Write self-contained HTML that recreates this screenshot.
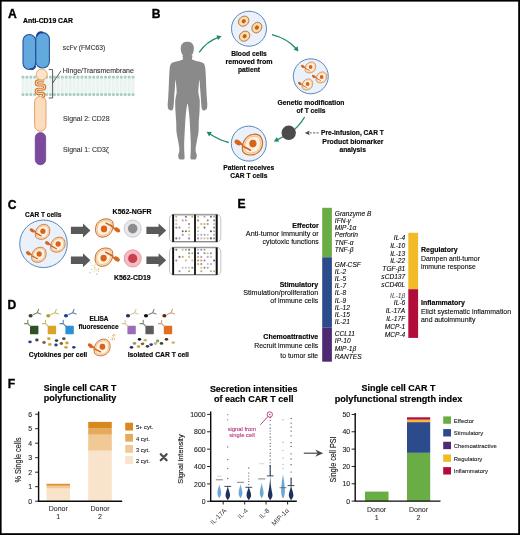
<!DOCTYPE html>
<html><head><meta charset="utf-8"><style>
html,body{margin:0;padding:0;background:#fff;}
svg{display:block;filter:blur(0.3px);font-family:"Liberation Sans",sans-serif;}
</style></head><body>
<svg width="520" height="535" viewBox="0 0 520 535">
<rect width="520" height="535" fill="#fff"/>
<text x="8.00" y="17.50" font-size="12.1" font-weight="bold" fill="#000" stroke="#000" stroke-width="0.35">A</text>
<text x="23.00" y="23.40" font-size="7" font-weight="bold" fill="#000" textLength="50" lengthAdjust="spacingAndGlyphs" stroke="#000" stroke-width="0.18">Anti-CD19 CAR</text>
<g><rect x="21.5" y="78" width="113" height="15.8" fill="#f3f9f7"/><line x1="22.30" y1="78.5" x2="22.30" y2="93.6" stroke="#dcebe6" stroke-width="0.5"/><line x1="23.70" y1="78.5" x2="23.70" y2="93.6" stroke="#dcebe6" stroke-width="0.5"/><line x1="26.23" y1="78.5" x2="26.23" y2="93.6" stroke="#dcebe6" stroke-width="0.5"/><line x1="27.63" y1="78.5" x2="27.63" y2="93.6" stroke="#dcebe6" stroke-width="0.5"/><line x1="30.16" y1="78.5" x2="30.16" y2="93.6" stroke="#dcebe6" stroke-width="0.5"/><line x1="31.56" y1="78.5" x2="31.56" y2="93.6" stroke="#dcebe6" stroke-width="0.5"/><line x1="34.09" y1="78.5" x2="34.09" y2="93.6" stroke="#dcebe6" stroke-width="0.5"/><line x1="35.49" y1="78.5" x2="35.49" y2="93.6" stroke="#dcebe6" stroke-width="0.5"/><line x1="38.02" y1="78.5" x2="38.02" y2="93.6" stroke="#dcebe6" stroke-width="0.5"/><line x1="39.42" y1="78.5" x2="39.42" y2="93.6" stroke="#dcebe6" stroke-width="0.5"/><line x1="41.95" y1="78.5" x2="41.95" y2="93.6" stroke="#dcebe6" stroke-width="0.5"/><line x1="43.35" y1="78.5" x2="43.35" y2="93.6" stroke="#dcebe6" stroke-width="0.5"/><line x1="45.88" y1="78.5" x2="45.88" y2="93.6" stroke="#dcebe6" stroke-width="0.5"/><line x1="47.28" y1="78.5" x2="47.28" y2="93.6" stroke="#dcebe6" stroke-width="0.5"/><line x1="49.81" y1="78.5" x2="49.81" y2="93.6" stroke="#dcebe6" stroke-width="0.5"/><line x1="51.21" y1="78.5" x2="51.21" y2="93.6" stroke="#dcebe6" stroke-width="0.5"/><line x1="53.74" y1="78.5" x2="53.74" y2="93.6" stroke="#dcebe6" stroke-width="0.5"/><line x1="55.14" y1="78.5" x2="55.14" y2="93.6" stroke="#dcebe6" stroke-width="0.5"/><line x1="57.67" y1="78.5" x2="57.67" y2="93.6" stroke="#dcebe6" stroke-width="0.5"/><line x1="59.07" y1="78.5" x2="59.07" y2="93.6" stroke="#dcebe6" stroke-width="0.5"/><line x1="61.60" y1="78.5" x2="61.60" y2="93.6" stroke="#dcebe6" stroke-width="0.5"/><line x1="63.00" y1="78.5" x2="63.00" y2="93.6" stroke="#dcebe6" stroke-width="0.5"/><line x1="65.53" y1="78.5" x2="65.53" y2="93.6" stroke="#dcebe6" stroke-width="0.5"/><line x1="66.93" y1="78.5" x2="66.93" y2="93.6" stroke="#dcebe6" stroke-width="0.5"/><line x1="69.46" y1="78.5" x2="69.46" y2="93.6" stroke="#dcebe6" stroke-width="0.5"/><line x1="70.86" y1="78.5" x2="70.86" y2="93.6" stroke="#dcebe6" stroke-width="0.5"/><line x1="73.39" y1="78.5" x2="73.39" y2="93.6" stroke="#dcebe6" stroke-width="0.5"/><line x1="74.79" y1="78.5" x2="74.79" y2="93.6" stroke="#dcebe6" stroke-width="0.5"/><line x1="77.32" y1="78.5" x2="77.32" y2="93.6" stroke="#dcebe6" stroke-width="0.5"/><line x1="78.72" y1="78.5" x2="78.72" y2="93.6" stroke="#dcebe6" stroke-width="0.5"/><line x1="81.25" y1="78.5" x2="81.25" y2="93.6" stroke="#dcebe6" stroke-width="0.5"/><line x1="82.65" y1="78.5" x2="82.65" y2="93.6" stroke="#dcebe6" stroke-width="0.5"/><line x1="85.18" y1="78.5" x2="85.18" y2="93.6" stroke="#dcebe6" stroke-width="0.5"/><line x1="86.58" y1="78.5" x2="86.58" y2="93.6" stroke="#dcebe6" stroke-width="0.5"/><line x1="89.11" y1="78.5" x2="89.11" y2="93.6" stroke="#dcebe6" stroke-width="0.5"/><line x1="90.51" y1="78.5" x2="90.51" y2="93.6" stroke="#dcebe6" stroke-width="0.5"/><line x1="93.04" y1="78.5" x2="93.04" y2="93.6" stroke="#dcebe6" stroke-width="0.5"/><line x1="94.44" y1="78.5" x2="94.44" y2="93.6" stroke="#dcebe6" stroke-width="0.5"/><line x1="96.97" y1="78.5" x2="96.97" y2="93.6" stroke="#dcebe6" stroke-width="0.5"/><line x1="98.37" y1="78.5" x2="98.37" y2="93.6" stroke="#dcebe6" stroke-width="0.5"/><line x1="100.90" y1="78.5" x2="100.90" y2="93.6" stroke="#dcebe6" stroke-width="0.5"/><line x1="102.30" y1="78.5" x2="102.30" y2="93.6" stroke="#dcebe6" stroke-width="0.5"/><line x1="104.83" y1="78.5" x2="104.83" y2="93.6" stroke="#dcebe6" stroke-width="0.5"/><line x1="106.23" y1="78.5" x2="106.23" y2="93.6" stroke="#dcebe6" stroke-width="0.5"/><line x1="108.76" y1="78.5" x2="108.76" y2="93.6" stroke="#dcebe6" stroke-width="0.5"/><line x1="110.16" y1="78.5" x2="110.16" y2="93.6" stroke="#dcebe6" stroke-width="0.5"/><line x1="112.69" y1="78.5" x2="112.69" y2="93.6" stroke="#dcebe6" stroke-width="0.5"/><line x1="114.09" y1="78.5" x2="114.09" y2="93.6" stroke="#dcebe6" stroke-width="0.5"/><line x1="116.62" y1="78.5" x2="116.62" y2="93.6" stroke="#dcebe6" stroke-width="0.5"/><line x1="118.02" y1="78.5" x2="118.02" y2="93.6" stroke="#dcebe6" stroke-width="0.5"/><line x1="120.55" y1="78.5" x2="120.55" y2="93.6" stroke="#dcebe6" stroke-width="0.5"/><line x1="121.95" y1="78.5" x2="121.95" y2="93.6" stroke="#dcebe6" stroke-width="0.5"/><line x1="124.48" y1="78.5" x2="124.48" y2="93.6" stroke="#dcebe6" stroke-width="0.5"/><line x1="125.88" y1="78.5" x2="125.88" y2="93.6" stroke="#dcebe6" stroke-width="0.5"/><line x1="128.41" y1="78.5" x2="128.41" y2="93.6" stroke="#dcebe6" stroke-width="0.5"/><line x1="129.81" y1="78.5" x2="129.81" y2="93.6" stroke="#dcebe6" stroke-width="0.5"/><line x1="132.34" y1="78.5" x2="132.34" y2="93.6" stroke="#dcebe6" stroke-width="0.5"/><line x1="133.74" y1="78.5" x2="133.74" y2="93.6" stroke="#dcebe6" stroke-width="0.5"/><circle cx="23.00" cy="77.1" r="1.6" fill="#a9cfc1"/><circle cx="23.00" cy="94.6" r="1.6" fill="#a9cfc1"/><circle cx="26.93" cy="77.1" r="1.6" fill="#a9cfc1"/><circle cx="26.93" cy="94.6" r="1.6" fill="#a9cfc1"/><circle cx="30.86" cy="77.1" r="1.6" fill="#a9cfc1"/><circle cx="30.86" cy="94.6" r="1.6" fill="#a9cfc1"/><circle cx="34.79" cy="77.1" r="1.6" fill="#a9cfc1"/><circle cx="34.79" cy="94.6" r="1.6" fill="#a9cfc1"/><circle cx="38.72" cy="77.1" r="1.6" fill="#a9cfc1"/><circle cx="38.72" cy="94.6" r="1.6" fill="#a9cfc1"/><circle cx="42.65" cy="77.1" r="1.6" fill="#a9cfc1"/><circle cx="42.65" cy="94.6" r="1.6" fill="#a9cfc1"/><circle cx="46.58" cy="77.1" r="1.6" fill="#a9cfc1"/><circle cx="46.58" cy="94.6" r="1.6" fill="#a9cfc1"/><circle cx="50.51" cy="77.1" r="1.6" fill="#a9cfc1"/><circle cx="50.51" cy="94.6" r="1.6" fill="#a9cfc1"/><circle cx="54.44" cy="77.1" r="1.6" fill="#a9cfc1"/><circle cx="54.44" cy="94.6" r="1.6" fill="#a9cfc1"/><circle cx="58.37" cy="77.1" r="1.6" fill="#a9cfc1"/><circle cx="58.37" cy="94.6" r="1.6" fill="#a9cfc1"/><circle cx="62.30" cy="77.1" r="1.6" fill="#a9cfc1"/><circle cx="62.30" cy="94.6" r="1.6" fill="#a9cfc1"/><circle cx="66.23" cy="77.1" r="1.6" fill="#a9cfc1"/><circle cx="66.23" cy="94.6" r="1.6" fill="#a9cfc1"/><circle cx="70.16" cy="77.1" r="1.6" fill="#a9cfc1"/><circle cx="70.16" cy="94.6" r="1.6" fill="#a9cfc1"/><circle cx="74.09" cy="77.1" r="1.6" fill="#a9cfc1"/><circle cx="74.09" cy="94.6" r="1.6" fill="#a9cfc1"/><circle cx="78.02" cy="77.1" r="1.6" fill="#a9cfc1"/><circle cx="78.02" cy="94.6" r="1.6" fill="#a9cfc1"/><circle cx="81.95" cy="77.1" r="1.6" fill="#a9cfc1"/><circle cx="81.95" cy="94.6" r="1.6" fill="#a9cfc1"/><circle cx="85.88" cy="77.1" r="1.6" fill="#a9cfc1"/><circle cx="85.88" cy="94.6" r="1.6" fill="#a9cfc1"/><circle cx="89.81" cy="77.1" r="1.6" fill="#a9cfc1"/><circle cx="89.81" cy="94.6" r="1.6" fill="#a9cfc1"/><circle cx="93.74" cy="77.1" r="1.6" fill="#a9cfc1"/><circle cx="93.74" cy="94.6" r="1.6" fill="#a9cfc1"/><circle cx="97.67" cy="77.1" r="1.6" fill="#a9cfc1"/><circle cx="97.67" cy="94.6" r="1.6" fill="#a9cfc1"/><circle cx="101.60" cy="77.1" r="1.6" fill="#a9cfc1"/><circle cx="101.60" cy="94.6" r="1.6" fill="#a9cfc1"/><circle cx="105.53" cy="77.1" r="1.6" fill="#a9cfc1"/><circle cx="105.53" cy="94.6" r="1.6" fill="#a9cfc1"/><circle cx="109.46" cy="77.1" r="1.6" fill="#a9cfc1"/><circle cx="109.46" cy="94.6" r="1.6" fill="#a9cfc1"/><circle cx="113.39" cy="77.1" r="1.6" fill="#a9cfc1"/><circle cx="113.39" cy="94.6" r="1.6" fill="#a9cfc1"/><circle cx="117.32" cy="77.1" r="1.6" fill="#a9cfc1"/><circle cx="117.32" cy="94.6" r="1.6" fill="#a9cfc1"/><circle cx="121.25" cy="77.1" r="1.6" fill="#a9cfc1"/><circle cx="121.25" cy="94.6" r="1.6" fill="#a9cfc1"/><circle cx="125.18" cy="77.1" r="1.6" fill="#a9cfc1"/><circle cx="125.18" cy="94.6" r="1.6" fill="#a9cfc1"/><circle cx="129.11" cy="77.1" r="1.6" fill="#a9cfc1"/><circle cx="129.11" cy="94.6" r="1.6" fill="#a9cfc1"/><circle cx="133.04" cy="77.1" r="1.6" fill="#a9cfc1"/><circle cx="133.04" cy="94.6" r="1.6" fill="#a9cfc1"/></g>
<rect x="23" y="34.5" width="12.6" height="35" rx="6.2" fill="#62aadd" stroke="#26509c" stroke-width="1.1"/>
<rect x="35.8" y="32.6" width="13.6" height="35.4" rx="6.6" fill="#62aadd" stroke="#26509c" stroke-width="1.1"/>
<path d="M37 35.5 C37.5 32.5 40 31.6 42.5 32.4" fill="none" stroke="#1e4190" stroke-width="1.8" stroke-linecap="round"/>
<path d="M30.5 68.8 C32.5 69.5 34.5 68.6 35.4 66.5" fill="none" stroke="#1e4190" stroke-width="1.6" stroke-linecap="round"/>
<rect x="34.6" y="96.4" width="11.4" height="34.8" rx="5.6" fill="#fbdcbf" stroke="#e29a55" stroke-width="0.9"/>
<rect x="35.2" y="132.4" width="10.5" height="32.4" rx="5.2" fill="#7b4a9c" stroke="#63348a" stroke-width="0.6"/>
<path d="M44.2 80.9 H38.3 A2.05 2.05 0 0 0 38.3 85 H42.6 A2.1 2.1 0 0 1 42.6 89.2 H38.3 A2.1 2.1 0 0 0 38.3 93.4 H42.2 A1.6 1.6 0 0 1 42.2 96.6" fill="none" stroke="#d9772a" stroke-width="3.1"/>
<path d="M44.2 80.9 H38.3 A2.05 2.05 0 0 0 38.3 85 H42.6 A2.1 2.1 0 0 1 42.6 89.2 H38.3 A2.1 2.1 0 0 0 38.3 93.4 H42.2 A1.6 1.6 0 0 1 42.2 96.6" fill="none" stroke="#fde6cf" stroke-width="1.0"/>
<circle cx="41.7" cy="74.5" r="5.5" fill="#fbe4ca" stroke="#e6a060" stroke-width="0.9"/>
<path d="M48.7 69.6 H52.6 V98 H48.7" fill="none" stroke="#333" stroke-width="0.8"/>
<line x1="52.6" y1="83" x2="61" y2="70.8" stroke="#333" stroke-width="0.8"/>
<text x="62.80" y="50.40" font-size="7" fill="#333" textLength="42.4" lengthAdjust="spacingAndGlyphs" stroke="#333" stroke-width="0.1">scFv (FMC63)</text>
<text x="62.80" y="73.40" font-size="7" fill="#333" textLength="71" lengthAdjust="spacingAndGlyphs" stroke="#333" stroke-width="0.1">Hinge/Transmembrane</text>
<text x="63.00" y="120.80" font-size="7" fill="#333" textLength="46.5" lengthAdjust="spacingAndGlyphs" stroke="#333" stroke-width="0.1">Signal 2: CD28</text>
<text x="63.00" y="152.40" font-size="7" fill="#333" textLength="45.8" lengthAdjust="spacingAndGlyphs" stroke="#333" stroke-width="0.1">Signal 1: CD3ζ</text>
<text x="151.70" y="17.50" font-size="12.1" font-weight="bold" fill="#000" stroke="#000" stroke-width="0.35">B</text>
<path d="M183.00 55.50 C181.62 56.09 183.85 58.50 182.80 59.40 C181.75 60.30 177.69 60.91 176.00 61.50 C174.31 62.09 172.43 62.40 171.50 63.30 C170.57 64.20 170.15 65.59 169.80 67.50 C169.46 69.41 169.36 72.92 169.20 76.00 C169.03 79.08 168.85 84.70 168.70 88.00 C168.55 91.30 168.35 95.53 168.20 98.00 C168.05 100.47 167.70 102.88 167.70 104.50 C167.70 106.12 167.76 107.91 168.20 108.80 C168.63 109.69 169.88 110.34 170.60 110.40 C171.32 110.46 172.53 110.09 173.00 109.20 C173.47 108.31 173.52 106.33 173.70 104.50 C173.88 102.67 174.02 99.47 174.20 97.00 C174.38 94.53 174.72 90.55 174.90 88.00 C175.08 85.45 175.19 80.30 175.40 80.00 C175.61 79.70 176.12 84.05 176.30 86.00 C176.48 87.95 176.75 90.90 176.60 93.00 C176.45 95.10 175.48 97.45 175.30 100.00 C175.12 102.55 175.27 106.70 175.40 110.00 C175.53 113.30 176.03 118.70 176.20 122.00 C176.36 125.30 176.19 129.00 176.50 132.00 C176.81 135.00 177.87 139.30 178.30 142.00 C178.74 144.70 179.42 147.97 179.40 150.00 C179.38 152.03 178.23 154.15 178.20 155.50 C178.17 156.85 178.63 158.38 179.20 159.00 C179.77 159.62 181.20 159.67 182.00 159.60 C182.80 159.53 184.16 159.64 184.50 158.50 C184.84 157.36 184.35 154.32 184.30 152.00 C184.25 149.68 184.14 146.00 184.20 143.00 C184.26 140.00 184.50 135.75 184.70 132.00 C184.89 128.25 185.22 121.60 185.50 118.00 C185.78 114.40 186.30 110.17 186.60 108.00 C186.90 105.83 187.23 103.50 187.50 103.50 C187.77 103.50 188.10 105.83 188.40 108.00 C188.70 110.17 189.22 114.40 189.50 118.00 C189.78 121.60 190.11 128.25 190.30 132.00 C190.50 135.75 190.74 140.00 190.80 143.00 C190.86 146.00 190.75 149.68 190.70 152.00 C190.65 154.32 190.16 157.36 190.50 158.50 C190.84 159.64 192.20 159.53 193.00 159.60 C193.80 159.67 195.23 159.62 195.80 159.00 C196.37 158.38 196.83 156.85 196.80 155.50 C196.77 154.15 195.62 152.03 195.60 150.00 C195.58 147.97 196.26 144.70 196.70 142.00 C197.13 139.30 198.19 135.00 198.50 132.00 C198.81 129.00 198.64 125.30 198.80 122.00 C198.97 118.70 199.47 113.30 199.60 110.00 C199.73 106.70 199.88 102.55 199.70 100.00 C199.52 97.45 198.55 95.10 198.40 93.00 C198.25 90.90 198.52 87.95 198.70 86.00 C198.88 84.05 199.39 79.70 199.60 80.00 C199.81 80.30 199.92 85.45 200.10 88.00 C200.28 90.55 200.62 94.53 200.80 97.00 C200.98 99.47 201.12 102.67 201.30 104.50 C201.48 106.33 201.53 108.31 202.00 109.20 C202.47 110.09 203.68 110.46 204.40 110.40 C205.12 110.34 206.37 109.69 206.80 108.80 C207.24 107.91 207.30 106.12 207.30 104.50 C207.30 102.88 206.95 100.47 206.80 98.00 C206.65 95.53 206.45 91.30 206.30 88.00 C206.15 84.70 205.97 79.08 205.80 76.00 C205.64 72.92 205.54 69.41 205.20 67.50 C204.85 65.59 204.43 64.20 203.50 63.30 C202.57 62.40 200.69 62.09 199.00 61.50 C197.31 60.91 193.25 60.30 192.20 59.40 C191.15 58.50 193.38 56.09 192.00 55.50 C190.62 54.91 184.38 54.91 183.00 55.50Z" fill="#8a8a8a"/>
<path d="M187.30 41.80 C188.73 41.80 190.53 42.12 191.60 42.90 C192.67 43.68 193.37 45.15 193.70 46.50 C194.03 47.85 193.83 49.65 193.60 51.00 C193.37 52.35 192.87 53.62 192.30 54.60 C191.73 55.58 191.03 56.37 190.20 56.90 C189.37 57.43 188.27 57.80 187.30 57.80 C186.33 57.80 185.23 57.43 184.40 56.90 C183.57 56.37 182.87 55.58 182.30 54.60 C181.73 53.62 181.23 52.35 181.00 51.00 C180.77 49.65 180.57 47.85 180.90 46.50 C181.23 45.15 181.93 43.68 183.00 42.90 C184.07 42.12 185.87 41.80 187.30 41.80Z" fill="#8a8a8a"/>
<circle cx="249" cy="28.7" r="17.5" fill="#eaf1fa" stroke="#5a88bb" stroke-width="1"/>
<circle cx="310.8" cy="76.3" r="17.5" fill="#eaf1fa" stroke="#5a88bb" stroke-width="1"/>
<circle cx="248.8" cy="143.6" r="17.5" fill="#eaf1fa" stroke="#5a88bb" stroke-width="1"/>
<g transform="translate(243.7,21.2) rotate(-40)"><ellipse rx="5.6" ry="4.7" fill="#f9d09a" stroke="#b87238" stroke-width="0.85"/><ellipse rx="4.3" ry="3.4000000000000004" fill="#fde2b6"/><ellipse rx="2.2" ry="2.0" fill="#c0621a"/></g>
<g transform="translate(256.9,27.6) rotate(-55)"><ellipse rx="5.6" ry="4.7" fill="#f9d09a" stroke="#b87238" stroke-width="0.85"/><ellipse rx="4.3" ry="3.4000000000000004" fill="#fde2b6"/><ellipse rx="2.2" ry="2.0" fill="#c0621a"/></g>
<g transform="translate(244.6,36.2) rotate(-40)"><ellipse rx="5.6" ry="4.7" fill="#f9d09a" stroke="#b87238" stroke-width="0.85"/><ellipse rx="4.3" ry="3.4000000000000004" fill="#fde2b6"/><ellipse rx="2.2" ry="2.0" fill="#c0621a"/></g>
<g transform="translate(310.2,67.4) rotate(0) scale(0.53,0.53)"><path d="M-9.2 7 C-11.2 0 -7.2 -9.6 1.8 -10.3 C9 -10.8 11.4 -4.5 10.1 1.5 C9 7.5 3 10.8 -2 10.5 C-5.5 10.3 -8 9.2 -9.2 7Z" fill="#fcdcb6" stroke="#c0692c" stroke-width="1.1"/><path d="M-7.2 5.8 C-8.6 0 -5.6 -7.6 1.8 -8.2 C7.5 -8.6 9 -3.8 8.2 1.2 C7.3 6 2.6 8.6 -1.6 8.4 C-4.3 8.3 -6.4 7.3 -7.2 5.8Z" fill="#fff2e2" stroke="#eeaa6c" stroke-width="0.7"/><ellipse cx="0.8" cy="-0.9" rx="3.6" ry="3.8" fill="#d8631a"/><line x1="-1.6" y1="5.7" x2="-8.9" y2="1.8" stroke="#c9611e" stroke-width="1.7" stroke-linecap="round"/><path d="M-9.8 1.6 L-12.4 -0.4 L-11.2 -2 L-8.6 0Z" fill="#d8651e"/><ellipse cx="-14.2" cy="-2" rx="3.7" ry="2.4" transform="rotate(35 -14.2 -2)" fill="#d8651e"/></g>
<g transform="translate(321.2,77.4) rotate(0) scale(0.53,0.53)"><path d="M-9.2 7 C-11.2 0 -7.2 -9.6 1.8 -10.3 C9 -10.8 11.4 -4.5 10.1 1.5 C9 7.5 3 10.8 -2 10.5 C-5.5 10.3 -8 9.2 -9.2 7Z" fill="#fcdcb6" stroke="#c0692c" stroke-width="1.1"/><path d="M-7.2 5.8 C-8.6 0 -5.6 -7.6 1.8 -8.2 C7.5 -8.6 9 -3.8 8.2 1.2 C7.3 6 2.6 8.6 -1.6 8.4 C-4.3 8.3 -6.4 7.3 -7.2 5.8Z" fill="#fff2e2" stroke="#eeaa6c" stroke-width="0.7"/><ellipse cx="0.8" cy="-0.9" rx="3.6" ry="3.8" fill="#d8631a"/><line x1="-1.6" y1="5.7" x2="-8.9" y2="1.8" stroke="#c9611e" stroke-width="1.7" stroke-linecap="round"/><path d="M-9.8 1.6 L-12.4 -0.4 L-11.2 -2 L-8.6 0Z" fill="#d8651e"/><ellipse cx="-14.2" cy="-2" rx="3.7" ry="2.4" transform="rotate(35 -14.2 -2)" fill="#d8651e"/></g>
<g transform="translate(307.2,84.4) rotate(0) scale(0.53,0.53)"><path d="M-9.2 7 C-11.2 0 -7.2 -9.6 1.8 -10.3 C9 -10.8 11.4 -4.5 10.1 1.5 C9 7.5 3 10.8 -2 10.5 C-5.5 10.3 -8 9.2 -9.2 7Z" fill="#fcdcb6" stroke="#c0692c" stroke-width="1.1"/><path d="M-7.2 5.8 C-8.6 0 -5.6 -7.6 1.8 -8.2 C7.5 -8.6 9 -3.8 8.2 1.2 C7.3 6 2.6 8.6 -1.6 8.4 C-4.3 8.3 -6.4 7.3 -7.2 5.8Z" fill="#fff2e2" stroke="#eeaa6c" stroke-width="0.7"/><ellipse cx="0.8" cy="-0.9" rx="3.6" ry="3.8" fill="#d8631a"/><line x1="-1.6" y1="5.7" x2="-8.9" y2="1.8" stroke="#c9611e" stroke-width="1.7" stroke-linecap="round"/><path d="M-9.8 1.6 L-12.4 -0.4 L-11.2 -2 L-8.6 0Z" fill="#d8651e"/><ellipse cx="-14.2" cy="-2" rx="3.7" ry="2.4" transform="rotate(35 -14.2 -2)" fill="#d8651e"/></g>
<g transform="translate(252.1,144.5) rotate(0) scale(1.0,1.0)"><path d="M-9.2 7 C-11.2 0 -7.2 -9.6 1.8 -10.3 C9 -10.8 11.4 -4.5 10.1 1.5 C9 7.5 3 10.8 -2 10.5 C-5.5 10.3 -8 9.2 -9.2 7Z" fill="#fcdcb6" stroke="#c0692c" stroke-width="1.1"/><path d="M-7.2 5.8 C-8.6 0 -5.6 -7.6 1.8 -8.2 C7.5 -8.6 9 -3.8 8.2 1.2 C7.3 6 2.6 8.6 -1.6 8.4 C-4.3 8.3 -6.4 7.3 -7.2 5.8Z" fill="#fff2e2" stroke="#eeaa6c" stroke-width="0.7"/><ellipse cx="0.8" cy="-0.9" rx="3.6" ry="3.8" fill="#d8631a"/><line x1="-1.6" y1="5.7" x2="-8.9" y2="1.8" stroke="#c9611e" stroke-width="1.7" stroke-linecap="round"/><path d="M-9.8 1.6 L-12.4 -0.4 L-11.2 -2 L-8.6 0Z" fill="#d8651e"/><ellipse cx="-14.2" cy="-2" rx="3.7" ry="2.4" transform="rotate(35 -14.2 -2)" fill="#d8651e"/></g>
<path d="M199.2 52.3 Q207 41 218.5 37.3" fill="none" stroke="#1e8a6b" stroke-width="1.3"/>
<path d="M221.60 36.20 L218.03 40.09 L216.42 35.15Z" fill="#1e8a6b"/>
<path d="M272 34.7 Q287 38.5 296 48.5" fill="none" stroke="#1e8a6b" stroke-width="1.3"/>
<path d="M298.40 51.60 L293.52 49.58 L297.62 46.37Z" fill="#1e8a6b"/>
<path d="M304.6 117 Q299 127 289 133.5 Q282 137.5 277 139.8" fill="none" stroke="#1e8a6b" stroke-width="1.3"/>
<path d="M273.80 141.40 L276.87 137.10 L279.07 141.81Z" fill="#1e8a6b"/>
<path d="M228.7 142.5 Q219 140 210 134" fill="none" stroke="#1e8a6b" stroke-width="1.3"/>
<path d="M206.60 131.80 L211.88 132.03 L209.12 136.44Z" fill="#1e8a6b"/>
<circle cx="288.7" cy="132.8" r="7.2" fill="#4b4b4d"/>
<path d="M309.5 132.9 H319.5" stroke="#444" stroke-width="0.9" stroke-dasharray="2.2 1.3"/>
<path d="M304.8 132.9 L309.8 130.6 L308.6 132.9 L309.8 135.2Z" fill="#444"/>
<text x="249.00" y="55.80" font-size="6.7" font-weight="bold" text-anchor="middle" stroke="#231f20" stroke-width="0.18">Blood cells</text>
<text x="249.00" y="64.10" font-size="6.7" font-weight="bold" text-anchor="middle" textLength="47" lengthAdjust="spacingAndGlyphs" stroke="#231f20" stroke-width="0.18">removed from</text>
<text x="249.00" y="72.20" font-size="6.7" font-weight="bold" text-anchor="middle" stroke="#231f20" stroke-width="0.18">patient</text>
<text x="311.00" y="105.00" font-size="6.7" font-weight="bold" text-anchor="middle" textLength="66.8" lengthAdjust="spacingAndGlyphs" stroke="#231f20" stroke-width="0.18">Genetic modification</text>
<text x="311.00" y="113.40" font-size="6.7" font-weight="bold" text-anchor="middle" stroke="#231f20" stroke-width="0.18">of T cells</text>
<text x="352.50" y="135.30" font-size="6.7" font-weight="bold" text-anchor="middle" textLength="62.8" lengthAdjust="spacingAndGlyphs" stroke="#231f20" stroke-width="0.18">Pre-infusion, CAR T</text>
<text x="352.90" y="143.50" font-size="6.7" font-weight="bold" text-anchor="middle" textLength="61.2" lengthAdjust="spacingAndGlyphs" stroke="#231f20" stroke-width="0.18">Product biomarker</text>
<text x="352.70" y="151.60" font-size="6.7" font-weight="bold" text-anchor="middle" stroke="#231f20" stroke-width="0.18">analysis</text>
<text x="248.80" y="169.60" font-size="6.7" font-weight="bold" text-anchor="middle" stroke="#231f20" stroke-width="0.18">Patient receives</text>
<text x="248.80" y="178.20" font-size="6.7" font-weight="bold" text-anchor="middle" stroke="#231f20" stroke-width="0.18">CAR T cells</text>
<text x="7.80" y="209.20" font-size="12.1" font-weight="bold" fill="#000" stroke="#000" stroke-width="0.35">C</text>
<text x="25.00" y="216.60" font-size="6.8" font-weight="bold" textLength="36.4" lengthAdjust="spacingAndGlyphs" stroke="#231f20" stroke-width="0.18">CAR T cells</text>
<circle cx="43.5" cy="243.8" r="23.8" fill="#eaf1fa" stroke="#5a88bb" stroke-width="1"/>
<g transform="translate(42.3,231.8) rotate(0) scale(0.72,0.72)"><path d="M-9.2 7 C-11.2 0 -7.2 -9.6 1.8 -10.3 C9 -10.8 11.4 -4.5 10.1 1.5 C9 7.5 3 10.8 -2 10.5 C-5.5 10.3 -8 9.2 -9.2 7Z" fill="#fcdcb6" stroke="#c0692c" stroke-width="1.1"/><path d="M-7.2 5.8 C-8.6 0 -5.6 -7.6 1.8 -8.2 C7.5 -8.6 9 -3.8 8.2 1.2 C7.3 6 2.6 8.6 -1.6 8.4 C-4.3 8.3 -6.4 7.3 -7.2 5.8Z" fill="#fff2e2" stroke="#eeaa6c" stroke-width="0.7"/><ellipse cx="0.8" cy="-0.9" rx="3.6" ry="3.8" fill="#d8631a"/><line x1="-1.6" y1="5.7" x2="-8.9" y2="1.8" stroke="#c9611e" stroke-width="1.7" stroke-linecap="round"/><path d="M-9.8 1.6 L-12.4 -0.4 L-11.2 -2 L-8.6 0Z" fill="#d8651e"/><ellipse cx="-14.2" cy="-2" rx="3.7" ry="2.4" transform="rotate(35 -14.2 -2)" fill="#d8651e"/></g>
<g transform="translate(57.6,244.6) rotate(0) scale(0.72,0.72)"><path d="M-9.2 7 C-11.2 0 -7.2 -9.6 1.8 -10.3 C9 -10.8 11.4 -4.5 10.1 1.5 C9 7.5 3 10.8 -2 10.5 C-5.5 10.3 -8 9.2 -9.2 7Z" fill="#fcdcb6" stroke="#c0692c" stroke-width="1.1"/><path d="M-7.2 5.8 C-8.6 0 -5.6 -7.6 1.8 -8.2 C7.5 -8.6 9 -3.8 8.2 1.2 C7.3 6 2.6 8.6 -1.6 8.4 C-4.3 8.3 -6.4 7.3 -7.2 5.8Z" fill="#fff2e2" stroke="#eeaa6c" stroke-width="0.7"/><ellipse cx="0.8" cy="-0.9" rx="3.6" ry="3.8" fill="#d8631a"/><line x1="-1.6" y1="5.7" x2="-8.9" y2="1.8" stroke="#c9611e" stroke-width="1.7" stroke-linecap="round"/><path d="M-9.8 1.6 L-12.4 -0.4 L-11.2 -2 L-8.6 0Z" fill="#d8651e"/><ellipse cx="-14.2" cy="-2" rx="3.7" ry="2.4" transform="rotate(35 -14.2 -2)" fill="#d8651e"/></g>
<g transform="translate(38.6,254.7) rotate(0) scale(0.72,0.72)"><path d="M-9.2 7 C-11.2 0 -7.2 -9.6 1.8 -10.3 C9 -10.8 11.4 -4.5 10.1 1.5 C9 7.5 3 10.8 -2 10.5 C-5.5 10.3 -8 9.2 -9.2 7Z" fill="#fcdcb6" stroke="#c0692c" stroke-width="1.1"/><path d="M-7.2 5.8 C-8.6 0 -5.6 -7.6 1.8 -8.2 C7.5 -8.6 9 -3.8 8.2 1.2 C7.3 6 2.6 8.6 -1.6 8.4 C-4.3 8.3 -6.4 7.3 -7.2 5.8Z" fill="#fff2e2" stroke="#eeaa6c" stroke-width="0.7"/><ellipse cx="0.8" cy="-0.9" rx="3.6" ry="3.8" fill="#d8631a"/><line x1="-1.6" y1="5.7" x2="-8.9" y2="1.8" stroke="#c9611e" stroke-width="1.7" stroke-linecap="round"/><path d="M-9.8 1.6 L-12.4 -0.4 L-11.2 -2 L-8.6 0Z" fill="#d8651e"/><ellipse cx="-14.2" cy="-2" rx="3.7" ry="2.4" transform="rotate(35 -14.2 -2)" fill="#d8651e"/></g>
<path d="M70.9 226.70000000000002 H83 V223.4 L90.4 230.4 L83 237.4 V234.1 H70.9Z" fill="#58595b"/>
<path d="M70.9 256.6 H83 V253.3 L90.4 260.3 L83 267.3 V264.0 H70.9Z" fill="#58595b"/>
<path d="M146.4 226.70000000000002 H158.6 V223.4 L166.2 230.4 L158.6 237.4 V234.1 H146.4Z" fill="#58595b"/>
<path d="M146.4 256.6 H158.6 V253.3 L166.2 260.3 L158.6 267.3 V264.0 H146.4Z" fill="#58595b"/>
<g transform="translate(104.7,228.1) rotate(180) scale(0.88,0.88)"><path d="M-9.2 7 C-11.2 0 -7.2 -9.6 1.8 -10.3 C9 -10.8 11.4 -4.5 10.1 1.5 C9 7.5 3 10.8 -2 10.5 C-5.5 10.3 -8 9.2 -9.2 7Z" fill="#fcdcb6" stroke="#c0692c" stroke-width="1.1"/><path d="M-7.2 5.8 C-8.6 0 -5.6 -7.6 1.8 -8.2 C7.5 -8.6 9 -3.8 8.2 1.2 C7.3 6 2.6 8.6 -1.6 8.4 C-4.3 8.3 -6.4 7.3 -7.2 5.8Z" fill="#fff2e2" stroke="#eeaa6c" stroke-width="0.7"/><ellipse cx="0.8" cy="-0.9" rx="3.6" ry="3.8" fill="#d8631a"/><line x1="-1.6" y1="5.7" x2="-8.9" y2="1.8" stroke="#c9611e" stroke-width="1.7" stroke-linecap="round"/><path d="M-9.8 1.6 L-12.4 -0.4 L-11.2 -2 L-8.6 0Z" fill="#d8651e"/><ellipse cx="-14.2" cy="-2" rx="3.7" ry="2.4" transform="rotate(35 -14.2 -2)" fill="#d8651e"/></g>
<g transform="translate(104.3,257.3) rotate(180) scale(0.88,0.88)"><path d="M-9.2 7 C-11.2 0 -7.2 -9.6 1.8 -10.3 C9 -10.8 11.4 -4.5 10.1 1.5 C9 7.5 3 10.8 -2 10.5 C-5.5 10.3 -8 9.2 -9.2 7Z" fill="#fcdcb6" stroke="#c0692c" stroke-width="1.1"/><path d="M-7.2 5.8 C-8.6 0 -5.6 -7.6 1.8 -8.2 C7.5 -8.6 9 -3.8 8.2 1.2 C7.3 6 2.6 8.6 -1.6 8.4 C-4.3 8.3 -6.4 7.3 -7.2 5.8Z" fill="#fff2e2" stroke="#eeaa6c" stroke-width="0.7"/><ellipse cx="0.8" cy="-0.9" rx="3.6" ry="3.8" fill="#d8631a"/><line x1="-1.6" y1="5.7" x2="-8.9" y2="1.8" stroke="#c9611e" stroke-width="1.7" stroke-linecap="round"/><path d="M-9.8 1.6 L-12.4 -0.4 L-11.2 -2 L-8.6 0Z" fill="#d8651e"/><ellipse cx="-14.2" cy="-2" rx="3.7" ry="2.4" transform="rotate(35 -14.2 -2)" fill="#d8651e"/></g>
<circle cx="91.88" cy="269.57" r="0.65" fill="#d8b060"/>
<circle cx="98.66" cy="268.66" r="0.65" fill="#e8c8a0"/>
<circle cx="90.16" cy="262.67" r="0.65" fill="#c8d890"/>
<circle cx="92.09" cy="265.55" r="0.65" fill="#c8d890"/>
<circle cx="94.91" cy="269.65" r="0.65" fill="#c8d890"/>
<circle cx="95.89" cy="264.46" r="0.65" fill="#f0d080"/>
<circle cx="98.18" cy="269.30" r="0.65" fill="#e8c060"/>
<circle cx="96.21" cy="263.33" r="0.65" fill="#e8c8a0"/>
<circle cx="89.93" cy="272.64" r="0.65" fill="#d8b060"/>
<circle cx="94.23" cy="271.84" r="0.65" fill="#c8d890"/>
<circle cx="96.64" cy="274.47" r="0.65" fill="#c8d890"/>
<circle cx="96.78" cy="270.00" r="0.65" fill="#f0d080"/>
<circle cx="98.29" cy="263.77" r="0.65" fill="#f0d080"/>
<circle cx="94.45" cy="265.85" r="0.65" fill="#c8d890"/>
<circle cx="97.29" cy="273.62" r="0.65" fill="#c8d890"/>
<circle cx="94.57" cy="267.52" r="0.65" fill="#d8b060"/>
<circle cx="94.84" cy="267.80" r="0.65" fill="#f0d080"/>
<circle cx="98.54" cy="271.37" r="0.65" fill="#e8c060"/>
<circle cx="132.7" cy="228.6" r="8.6" fill="#e8e8ec" stroke="#c0c0c8" stroke-width="0.8"/>
<circle cx="132.7" cy="228.6" r="4.8" fill="#8c8c90"/>
<circle cx="132.7" cy="258.4" r="8.6" fill="#f4bcc0" stroke="#e0909a" stroke-width="0.8"/>
<circle cx="132.7" cy="258.4" r="4.6" fill="#c8404e"/>
<text x="112.60" y="213.60" font-size="6.8" font-weight="bold" textLength="39" lengthAdjust="spacingAndGlyphs" stroke="#231f20" stroke-width="0.18">K562-NGFR</text>
<text x="114.00" y="279.60" font-size="6.8" font-weight="bold" textLength="36.6" lengthAdjust="spacingAndGlyphs" stroke="#231f20" stroke-width="0.18">K562-CD19</text>
<rect x="169.5" y="214.2" width="51.30000000000001" height="28.100000000000023" rx="4.5" fill="#fff" stroke="#8a8a8a" stroke-width="0.5"/>
<rect x="172.3" y="214.95" width="45.199999999999974" height="26.600000000000023" fill="#fff" stroke="#333" stroke-width="0.55"/>
<circle cx="176.30" cy="216.80" r="1.05" fill="#d8a868"/>
<circle cx="185.90" cy="216.80" r="1.05" fill="#7a6e90"/>
<circle cx="192.30" cy="216.80" r="1.05" fill="#d8a868"/>
<circle cx="176.30" cy="220.40" r="1.05" fill="#c4c4c4"/>
<circle cx="182.70" cy="220.40" r="1.05" fill="#b4a4d4"/>
<circle cx="185.90" cy="220.40" r="1.05" fill="#d8a868"/>
<circle cx="176.30" cy="224.00" r="1.05" fill="#c8c090"/>
<circle cx="189.10" cy="224.00" r="1.05" fill="#8a8a8a"/>
<circle cx="176.30" cy="227.60" r="1.05" fill="#8a8a8a"/>
<circle cx="179.50" cy="227.60" r="1.05" fill="#9a88c0"/>
<circle cx="189.10" cy="227.60" r="1.05" fill="#c4c4c4"/>
<circle cx="182.70" cy="231.20" r="1.05" fill="#707070"/>
<circle cx="185.90" cy="231.20" r="1.05" fill="#707070"/>
<circle cx="189.10" cy="231.20" r="1.05" fill="#d8a868"/>
<circle cx="182.70" cy="234.80" r="1.05" fill="#9a88c0"/>
<circle cx="189.10" cy="234.80" r="1.05" fill="#c4c4c4"/>
<circle cx="176.30" cy="238.40" r="1.05" fill="#7a6e90"/>
<circle cx="179.50" cy="238.40" r="1.05" fill="#a8a8a8"/>
<circle cx="189.10" cy="238.40" r="1.05" fill="#9a88c0"/>
<circle cx="198.10" cy="216.80" r="1.05" fill="#c8c090"/>
<circle cx="204.50" cy="216.80" r="1.05" fill="#a8a8a8"/>
<circle cx="210.90" cy="216.80" r="1.05" fill="#707070"/>
<circle cx="214.10" cy="216.80" r="1.05" fill="#a8a8a8"/>
<circle cx="198.10" cy="220.40" r="1.05" fill="#8a8a8a"/>
<circle cx="207.70" cy="220.40" r="1.05" fill="#9a88c0"/>
<circle cx="214.10" cy="220.40" r="1.05" fill="#b88070"/>
<circle cx="201.30" cy="224.00" r="1.05" fill="#d8a868"/>
<circle cx="204.50" cy="224.00" r="1.05" fill="#d8a868"/>
<circle cx="207.70" cy="224.00" r="1.05" fill="#8aa868"/>
<circle cx="214.10" cy="224.00" r="1.05" fill="#c8c090"/>
<circle cx="198.10" cy="227.60" r="1.05" fill="#c8c090"/>
<circle cx="204.50" cy="227.60" r="1.05" fill="#7a6e90"/>
<circle cx="214.10" cy="227.60" r="1.05" fill="#8a8a8a"/>
<circle cx="198.10" cy="231.20" r="1.05" fill="#c8c090"/>
<circle cx="210.90" cy="231.20" r="1.05" fill="#5e5e62"/>
<circle cx="214.10" cy="231.20" r="1.05" fill="#b4a4d4"/>
<circle cx="198.10" cy="234.80" r="1.05" fill="#c4c4c4"/>
<circle cx="201.30" cy="234.80" r="1.05" fill="#b4a4d4"/>
<circle cx="204.50" cy="234.80" r="1.05" fill="#a8a8a8"/>
<circle cx="207.70" cy="234.80" r="1.05" fill="#c4c4c4"/>
<circle cx="214.10" cy="234.80" r="1.05" fill="#a8b070"/>
<circle cx="198.10" cy="238.40" r="1.05" fill="#b88070"/>
<circle cx="201.30" cy="238.40" r="1.05" fill="#c4c4c4"/>
<circle cx="204.50" cy="238.40" r="1.05" fill="#c4c4c4"/>
<circle cx="207.70" cy="238.40" r="1.05" fill="#c8c090"/>
<circle cx="210.90" cy="238.40" r="1.05" fill="#5e5e62"/>
<circle cx="214.10" cy="238.40" r="1.05" fill="#9a88c0"/>
<rect x="172.3" y="214.6" width="1.8" height="27.300000000000022" fill="#111"/>
<rect x="194.1" y="214.6" width="1.8" height="27.300000000000022" fill="#111"/>
<rect x="215.7" y="214.6" width="1.8" height="27.300000000000022" fill="#111"/>
<rect x="169.5" y="247.1" width="51.30000000000001" height="28.099999999999994" rx="4.5" fill="#fff" stroke="#8a8a8a" stroke-width="0.5"/>
<rect x="172.3" y="247.85" width="45.199999999999974" height="26.599999999999994" fill="#fff" stroke="#333" stroke-width="0.55"/>
<circle cx="176.30" cy="249.70" r="1.05" fill="#707070"/>
<circle cx="182.70" cy="249.70" r="1.05" fill="#c8c090"/>
<circle cx="185.90" cy="249.70" r="1.05" fill="#a8b070"/>
<circle cx="189.10" cy="249.70" r="1.05" fill="#707070"/>
<circle cx="189.10" cy="253.30" r="1.05" fill="#b88070"/>
<circle cx="192.30" cy="253.30" r="1.05" fill="#a8b070"/>
<circle cx="179.50" cy="256.90" r="1.05" fill="#7a6e90"/>
<circle cx="182.70" cy="256.90" r="1.05" fill="#d8a868"/>
<circle cx="189.10" cy="256.90" r="1.05" fill="#c8c090"/>
<circle cx="176.30" cy="260.50" r="1.05" fill="#8a8a8a"/>
<circle cx="185.90" cy="260.50" r="1.05" fill="#c8c090"/>
<circle cx="192.30" cy="260.50" r="1.05" fill="#c8c090"/>
<circle cx="182.70" cy="267.70" r="1.05" fill="#c4c4c4"/>
<circle cx="185.90" cy="267.70" r="1.05" fill="#c4c4c4"/>
<circle cx="189.10" cy="267.70" r="1.05" fill="#c4c4c4"/>
<circle cx="192.30" cy="267.70" r="1.05" fill="#8a8a8a"/>
<circle cx="179.50" cy="271.30" r="1.05" fill="#9a88c0"/>
<circle cx="189.10" cy="271.30" r="1.05" fill="#a8b070"/>
<circle cx="198.10" cy="249.70" r="1.05" fill="#b4a4d4"/>
<circle cx="201.30" cy="249.70" r="1.05" fill="#9a88c0"/>
<circle cx="204.50" cy="249.70" r="1.05" fill="#a8b070"/>
<circle cx="198.10" cy="253.30" r="1.05" fill="#7a6e90"/>
<circle cx="204.50" cy="253.30" r="1.05" fill="#8a8a8a"/>
<circle cx="207.70" cy="253.30" r="1.05" fill="#c8c090"/>
<circle cx="210.90" cy="253.30" r="1.05" fill="#9a88c0"/>
<circle cx="198.10" cy="256.90" r="1.05" fill="#d8a868"/>
<circle cx="201.30" cy="256.90" r="1.05" fill="#a8a8a8"/>
<circle cx="207.70" cy="256.90" r="1.05" fill="#b4a4d4"/>
<circle cx="210.90" cy="256.90" r="1.05" fill="#c4c4c4"/>
<circle cx="198.10" cy="260.50" r="1.05" fill="#b88070"/>
<circle cx="201.30" cy="260.50" r="1.05" fill="#a8b070"/>
<circle cx="204.50" cy="260.50" r="1.05" fill="#b88070"/>
<circle cx="214.10" cy="260.50" r="1.05" fill="#5e5e62"/>
<circle cx="198.10" cy="264.10" r="1.05" fill="#d8a868"/>
<circle cx="201.30" cy="264.10" r="1.05" fill="#9a88c0"/>
<circle cx="207.70" cy="264.10" r="1.05" fill="#c4c4c4"/>
<circle cx="210.90" cy="264.10" r="1.05" fill="#b4a4d4"/>
<circle cx="201.30" cy="267.70" r="1.05" fill="#e0c070"/>
<circle cx="204.50" cy="267.70" r="1.05" fill="#8a8a8a"/>
<circle cx="207.70" cy="267.70" r="1.05" fill="#a8a8a8"/>
<circle cx="201.30" cy="271.30" r="1.05" fill="#a8b070"/>
<circle cx="210.90" cy="271.30" r="1.05" fill="#a8a8a8"/>
<circle cx="214.10" cy="271.30" r="1.05" fill="#d8a868"/>
<rect x="172.3" y="247.5" width="1.8" height="27.299999999999994" fill="#111"/>
<rect x="194.1" y="247.5" width="1.8" height="27.299999999999994" fill="#111"/>
<rect x="215.7" y="247.5" width="1.8" height="27.299999999999994" fill="#111"/>
<text x="7.50" y="308.70" font-size="12.1" font-weight="bold" fill="#000" stroke="#000" stroke-width="0.35">D</text>
<rect x="30.0" y="325.8" width="8.4" height="8.4" rx="0.6" fill="#2f5122"/>
<path d="M30.60 326.40 L27.80 323.60 M24.50 323.60 L27.80 323.60 L27.80 320.30" fill="none" stroke="#7a8868" stroke-width="1.1" stroke-linecap="round" stroke-linejoin="round"/>
<path d="M33.40 314.60 L37.32 312.77 M38.55 309.39 L37.32 312.77 L40.70 314.01" fill="none" stroke="#7a8868" stroke-width="1.1" stroke-linecap="round" stroke-linejoin="round"/>
<ellipse cx="30.60" cy="315.8" rx="2.1" ry="1.8" fill="#36452a"/>
<rect x="47.7" y="325.8" width="8.4" height="8.4" rx="0.6" fill="#d8a52a"/>
<path d="M48.30 326.40 L45.50 323.60 M42.20 323.60 L45.50 323.60 L45.50 320.30" fill="none" stroke="#c8bc78" stroke-width="1.1" stroke-linecap="round" stroke-linejoin="round"/>
<path d="M51.10 314.60 L55.02 312.77 M56.25 309.39 L55.02 312.77 L58.40 314.01" fill="none" stroke="#c8bc78" stroke-width="1.1" stroke-linecap="round" stroke-linejoin="round"/>
<ellipse cx="48.30" cy="315.8" rx="2.1" ry="1.8" fill="#b89e30"/>
<rect x="65.4" y="325.8" width="8.4" height="8.4" rx="0.6" fill="#2a90d8"/>
<path d="M66.00 326.40 L63.20 323.60 M59.90 323.60 L63.20 323.60 L63.20 320.30" fill="none" stroke="#5a80b0" stroke-width="1.1" stroke-linecap="round" stroke-linejoin="round"/>
<path d="M68.80 314.60 L72.72 312.77 M73.95 309.39 L72.72 312.77 L76.10 314.01" fill="none" stroke="#5a80b0" stroke-width="1.1" stroke-linecap="round" stroke-linejoin="round"/>
<ellipse cx="66.00" cy="315.8" rx="2.1" ry="1.8" fill="#2a3c88"/>
<rect x="127.4" y="325.8" width="8.4" height="8.4" rx="0.6" fill="#9c6cb8"/>
<path d="M128.00 326.40 L125.20 323.60 M121.90 323.60 L125.20 323.60 L125.20 320.30" fill="none" stroke="#d6c896" stroke-width="1.1" stroke-linecap="round" stroke-linejoin="round"/>
<path d="M130.80 314.60 L134.72 312.77 M135.95 309.39 L134.72 312.77 L138.10 314.01" fill="none" stroke="#d6c896" stroke-width="1.1" stroke-linecap="round" stroke-linejoin="round"/>
<ellipse cx="128.00" cy="315.8" rx="2.1" ry="1.8" fill="#3a2260"/>
<rect x="145.4" y="325.8" width="8.4" height="8.4" rx="0.6" fill="#5c5c5e"/>
<path d="M146.00 326.40 L143.20 323.60 M139.90 323.60 L143.20 323.60 L143.20 320.30" fill="none" stroke="#7a8a72" stroke-width="1.1" stroke-linecap="round" stroke-linejoin="round"/>
<path d="M148.80 314.60 L152.72 312.77 M153.95 309.39 L152.72 312.77 L156.10 314.01" fill="none" stroke="#7a8a72" stroke-width="1.1" stroke-linecap="round" stroke-linejoin="round"/>
<ellipse cx="146.00" cy="315.8" rx="2.1" ry="1.8" fill="#111111"/>
<rect x="163.8" y="325.8" width="8.4" height="8.4" rx="0.6" fill="#e0701e"/>
<path d="M164.40 326.40 L161.60 323.60 M158.30 323.60 L161.60 323.60 L161.60 320.30" fill="none" stroke="#c8a084" stroke-width="1.1" stroke-linecap="round" stroke-linejoin="round"/>
<path d="M167.20 314.60 L171.12 312.77 M172.35 309.39 L171.12 312.77 L174.50 314.01" fill="none" stroke="#c8a084" stroke-width="1.1" stroke-linecap="round" stroke-linejoin="round"/>
<ellipse cx="164.40" cy="315.8" rx="2.1" ry="1.8" fill="#5a2a14"/>
<text x="89.50" y="321.00" font-size="6.8" font-weight="bold" textLength="19" lengthAdjust="spacingAndGlyphs" stroke="#231f20" stroke-width="0.18">ELISA</text>
<text x="78.50" y="328.50" font-size="6.8" font-weight="bold" textLength="40" lengthAdjust="spacingAndGlyphs" stroke="#231f20" stroke-width="0.18">fluorescence</text>
<ellipse cx="30" cy="341.9" rx="1.75" ry="1.4" fill="#2a3c88"/>
<ellipse cx="36.9" cy="340" rx="1.75" ry="1.4" fill="#36452a"/>
<ellipse cx="44" cy="342.5" rx="1.75" ry="1.4" fill="#8a5a3a"/>
<ellipse cx="48.8" cy="338.7" rx="1.75" ry="1.4" fill="#c8a830"/>
<ellipse cx="49.8" cy="344.4" rx="1.75" ry="1.4" fill="#c8a830"/>
<ellipse cx="56.5" cy="340.6" rx="1.75" ry="1.4" fill="#36452a"/>
<ellipse cx="56" cy="345" rx="1.75" ry="1.4" fill="#2a3c88"/>
<ellipse cx="61.3" cy="343.5" rx="1.75" ry="1.4" fill="#8a5a3a"/>
<ellipse cx="63.8" cy="338.7" rx="1.75" ry="1.4" fill="#4a4a4a"/>
<ellipse cx="67" cy="343" rx="1.75" ry="1.4" fill="#c8a830"/>
<ellipse cx="66" cy="347.3" rx="1.75" ry="1.4" fill="#c8a830"/>
<ellipse cx="73.8" cy="347.3" rx="1.75" ry="1.4" fill="#2a3c88"/>
<ellipse cx="131.5" cy="347.3" rx="1.75" ry="1.4" fill="#3a2260"/>
<ellipse cx="134.5" cy="343.4" rx="1.75" ry="1.4" fill="#8a9a70"/>
<ellipse cx="138.5" cy="346.6" rx="1.75" ry="1.4" fill="#c8a830"/>
<ellipse cx="139.5" cy="339.3" rx="1.75" ry="1.4" fill="#111"/>
<ellipse cx="142.5" cy="343.8" rx="1.75" ry="1.4" fill="#8a5a3a"/>
<ellipse cx="145.2" cy="340.2" rx="1.75" ry="1.4" fill="#c8b878"/>
<ellipse cx="147.5" cy="346.3" rx="1.75" ry="1.4" fill="#36452a"/>
<ellipse cx="151.2" cy="344.6" rx="1.75" ry="1.4" fill="#2a3c88"/>
<ellipse cx="157.6" cy="341" rx="1.75" ry="1.4" fill="#8a9a70"/>
<ellipse cx="161.5" cy="343.4" rx="1.75" ry="1.4" fill="#36452a"/>
<ellipse cx="166.5" cy="339.3" rx="1.75" ry="1.4" fill="#5a2a14"/>
<ellipse cx="173.2" cy="342.6" rx="1.75" ry="1.4" fill="#c8b878"/>
<ellipse cx="155.5" cy="343.5" rx="1.75" ry="1.4" fill="#c8b878"/>
<g transform="translate(101.8,347.4) rotate(0) scale(0.8,0.8)"><path d="M-9.2 7 C-11.2 0 -7.2 -9.6 1.8 -10.3 C9 -10.8 11.4 -4.5 10.1 1.5 C9 7.5 3 10.8 -2 10.5 C-5.5 10.3 -8 9.2 -9.2 7Z" fill="#fcdcb6" stroke="#c0692c" stroke-width="1.1"/><path d="M-7.2 5.8 C-8.6 0 -5.6 -7.6 1.8 -8.2 C7.5 -8.6 9 -3.8 8.2 1.2 C7.3 6 2.6 8.6 -1.6 8.4 C-4.3 8.3 -6.4 7.3 -7.2 5.8Z" fill="#fff2e2" stroke="#eeaa6c" stroke-width="0.7"/><ellipse cx="0.8" cy="-0.9" rx="3.6" ry="3.8" fill="#d8631a"/><line x1="-1.6" y1="5.7" x2="-8.9" y2="1.8" stroke="#c9611e" stroke-width="1.7" stroke-linecap="round"/><path d="M-9.8 1.6 L-12.4 -0.4 L-11.2 -2 L-8.6 0Z" fill="#d8651e"/><ellipse cx="-14.2" cy="-2" rx="3.7" ry="2.4" transform="rotate(35 -14.2 -2)" fill="#d8651e"/></g>
<circle cx="112.55" cy="338.95" r="0.6" fill="#d8a850"/>
<circle cx="114.63" cy="338.94" r="0.6" fill="#d8a850"/>
<circle cx="108.69" cy="337.29" r="0.6" fill="#e8c060"/>
<circle cx="112.72" cy="339.91" r="0.6" fill="#e8c060"/>
<circle cx="110.92" cy="339.71" r="0.6" fill="#f0d080"/>
<circle cx="112.03" cy="337.94" r="0.6" fill="#e8c060"/>
<circle cx="113.25" cy="336.95" r="0.6" fill="#e8c060"/>
<circle cx="114.46" cy="339.09" r="0.6" fill="#e8c060"/>
<circle cx="113.45" cy="334.93" r="0.6" fill="#d8a850"/>
<circle cx="112.51" cy="335.26" r="0.6" fill="#e8c060"/>
<circle cx="114.82" cy="334.53" r="0.6" fill="#e8c060"/>
<circle cx="114.74" cy="335.50" r="0.6" fill="#e8c060"/>
<text x="28.70" y="357.00" font-size="6.8" font-weight="bold" textLength="58.6" lengthAdjust="spacingAndGlyphs" stroke="#231f20" stroke-width="0.18">Cytokines per cell</text>
<text x="127.70" y="357.30" font-size="6.8" font-weight="bold" textLength="61.3" lengthAdjust="spacingAndGlyphs" stroke="#231f20" stroke-width="0.18">Isolated CAR T cell</text>
<text x="237.50" y="207.50" font-size="12.1" font-weight="bold" fill="#000" stroke="#000" stroke-width="0.35">E</text>
<rect x="322.2" y="207.8" width="9.7" height="49.5" fill="#6aad45"/>
<rect x="322.2" y="257.3" width="9.7" height="70.4" fill="#2c4b8c"/>
<rect x="322.2" y="327.7" width="9.7" height="34" fill="#4f2a72"/>
<rect x="408.3" y="232.8" width="9.8" height="56.4" fill="#f0bb26"/>
<rect x="408.3" y="289.2" width="9.8" height="48.7" fill="#b20d3a"/>
<text x="334.80" y="215.50" font-size="6.6" font-style="italic" stroke="#231f20" stroke-width="0.1">Granzyme B</text>
<text x="334.80" y="222.75" font-size="6.6" font-style="italic" stroke="#231f20" stroke-width="0.1">IFN-γ</text>
<text x="334.80" y="230.00" font-size="6.6" font-style="italic" stroke="#231f20" stroke-width="0.1">MIP-1α</text>
<text x="334.80" y="237.25" font-size="6.6" font-style="italic" stroke="#231f20" stroke-width="0.1">Perforin</text>
<text x="334.80" y="244.50" font-size="6.6" font-style="italic" stroke="#231f20" stroke-width="0.1">TNF-α</text>
<text x="334.80" y="251.75" font-size="6.6" font-style="italic" stroke="#231f20" stroke-width="0.1">TNF-β</text>
<text x="334.80" y="266.60" font-size="6.6" font-style="italic" stroke="#231f20" stroke-width="0.1">GM-CSF</text>
<text x="334.80" y="273.80" font-size="6.6" font-style="italic" stroke="#231f20" stroke-width="0.1">IL-2</text>
<text x="334.80" y="281.00" font-size="6.6" font-style="italic" stroke="#231f20" stroke-width="0.1">IL-5</text>
<text x="334.80" y="288.20" font-size="6.6" font-style="italic" stroke="#231f20" stroke-width="0.1">IL-7</text>
<text x="334.80" y="295.40" font-size="6.6" font-style="italic" stroke="#231f20" stroke-width="0.1">IL-8</text>
<text x="334.80" y="302.60" font-size="6.6" font-style="italic" stroke="#231f20" stroke-width="0.1">IL-9</text>
<text x="334.80" y="309.80" font-size="6.6" font-style="italic" stroke="#231f20" stroke-width="0.1">IL-12</text>
<text x="334.80" y="317.00" font-size="6.6" font-style="italic" stroke="#231f20" stroke-width="0.1">IL-15</text>
<text x="334.80" y="324.20" font-size="6.6" font-style="italic" stroke="#231f20" stroke-width="0.1">IL-21</text>
<text x="334.80" y="335.60" font-size="6.6" font-style="italic" stroke="#231f20" stroke-width="0.1">CCL11</text>
<text x="334.80" y="343.35" font-size="6.6" font-style="italic" stroke="#231f20" stroke-width="0.1">IP-10</text>
<text x="334.80" y="351.10" font-size="6.6" font-style="italic" stroke="#231f20" stroke-width="0.1">MIP-1β</text>
<text x="334.80" y="358.85" font-size="6.6" font-style="italic" stroke="#231f20" stroke-width="0.1">RANTES</text>
<text x="405.20" y="239.70" font-size="6.6" font-style="italic" text-anchor="end" stroke="#231f20" stroke-width="0.1">IL-4</text>
<text x="405.20" y="247.63" font-size="6.6" font-style="italic" text-anchor="end" stroke="#231f20" stroke-width="0.1">IL-10</text>
<text x="405.20" y="255.56" font-size="6.6" font-style="italic" text-anchor="end" stroke="#231f20" stroke-width="0.1">IL-13</text>
<text x="405.20" y="263.49" font-size="6.6" font-style="italic" text-anchor="end" stroke="#231f20" stroke-width="0.1">IL-22</text>
<text x="405.20" y="271.42" font-size="6.6" font-style="italic" text-anchor="end" stroke="#231f20" stroke-width="0.1">TGF-β1</text>
<text x="405.20" y="279.35" font-size="6.6" font-style="italic" text-anchor="end" stroke="#231f20" stroke-width="0.1">sCD137</text>
<text x="405.20" y="287.28" font-size="6.6" font-style="italic" text-anchor="end" stroke="#231f20" stroke-width="0.1">sCD40L</text>
<text x="405.20" y="297.50" font-size="6.6" font-style="italic" text-anchor="end" fill="#555" stroke="#555" stroke-width="0.1">IL-1β</text>
<text x="405.20" y="305.30" font-size="6.6" font-style="italic" text-anchor="end" stroke="#231f20" stroke-width="0.1">IL-6</text>
<text x="405.20" y="313.10" font-size="6.6" font-style="italic" text-anchor="end" stroke="#231f20" stroke-width="0.1">IL-17A</text>
<text x="405.20" y="320.90" font-size="6.6" font-style="italic" text-anchor="end" stroke="#231f20" stroke-width="0.1">IL-17F</text>
<text x="405.20" y="328.70" font-size="6.6" font-style="italic" text-anchor="end" stroke="#231f20" stroke-width="0.1">MCP-1</text>
<text x="405.20" y="336.50" font-size="6.6" font-style="italic" text-anchor="end" stroke="#231f20" stroke-width="0.1">MCP-4</text>
<text x="318.80" y="227.80" font-size="7" font-weight="bold" text-anchor="end" stroke="#231f20" stroke-width="0.18">Effector</text>
<text x="318.80" y="236.20" font-size="6.9" text-anchor="end" textLength="73" lengthAdjust="spacingAndGlyphs" stroke="#231f20" stroke-width="0.1">Anti-tumor immunity or</text>
<text x="318.80" y="243.70" font-size="6.9" text-anchor="end" stroke="#231f20" stroke-width="0.1">cytotoxic functions</text>
<text x="318.20" y="286.70" font-size="7" font-weight="bold" text-anchor="end" stroke="#231f20" stroke-width="0.18">Stimulatory</text>
<text x="318.20" y="294.60" font-size="6.9" text-anchor="end" textLength="75" lengthAdjust="spacingAndGlyphs" stroke="#231f20" stroke-width="0.1">Stimulation/proliferation</text>
<text x="318.20" y="302.60" font-size="6.9" text-anchor="end" stroke="#231f20" stroke-width="0.1">of immune cells</text>
<text x="318.20" y="339.30" font-size="7" font-weight="bold" text-anchor="end" stroke="#231f20" stroke-width="0.18">Chemoattractive</text>
<text x="318.20" y="348.00" font-size="6.9" text-anchor="end" stroke="#231f20" stroke-width="0.1">Recruit immune cells</text>
<text x="318.20" y="357.90" font-size="6.9" text-anchor="end" stroke="#231f20" stroke-width="0.1">to tumor site</text>
<text x="421.00" y="252.40" font-size="7" font-weight="bold" stroke="#231f20" stroke-width="0.18">Regulatory</text>
<text x="421.00" y="260.80" font-size="6.9" stroke="#231f20" stroke-width="0.1">Dampen anti-tumor</text>
<text x="421.00" y="268.70" font-size="6.9" stroke="#231f20" stroke-width="0.1">immune response</text>
<text x="421.00" y="305.30" font-size="7" font-weight="bold" stroke="#231f20" stroke-width="0.18">Inflammatory</text>
<text x="421.00" y="313.90" font-size="6.9" stroke="#231f20" stroke-width="0.1">Elicit systematic inflammation</text>
<text x="421.00" y="321.50" font-size="6.9" stroke="#231f20" stroke-width="0.1">and autoimmunity</text>
<text x="7.70" y="388.00" font-size="12.1" font-weight="bold" fill="#000" stroke="#000" stroke-width="0.35">F</text>
<text x="80.00" y="391.30" font-size="8.8" font-weight="bold" text-anchor="middle" fill="#000" textLength="72.5" lengthAdjust="spacingAndGlyphs" stroke="#000" stroke-width="0.18">Single cell CAR T</text>
<text x="80.00" y="401.30" font-size="8.8" font-weight="bold" text-anchor="middle" fill="#000" textLength="72.5" lengthAdjust="spacingAndGlyphs" stroke="#000" stroke-width="0.18">polyfunctionality</text>
<text x="253.70" y="391.60" font-size="8.8" font-weight="bold" text-anchor="middle" fill="#000" textLength="87.6" lengthAdjust="spacingAndGlyphs" stroke="#000" stroke-width="0.18">Secretion intensities</text>
<text x="253.70" y="401.90" font-size="8.8" font-weight="bold" text-anchor="middle" fill="#000" textLength="79.5" lengthAdjust="spacingAndGlyphs" stroke="#000" stroke-width="0.18">of each CAR T cell</text>
<text x="398.50" y="391.20" font-size="8.8" font-weight="bold" text-anchor="middle" fill="#000" textLength="73.9" lengthAdjust="spacingAndGlyphs" stroke="#000" stroke-width="0.18">Single cell CAR T</text>
<text x="398.50" y="401.50" font-size="8.8" font-weight="bold" text-anchor="middle" fill="#000" textLength="127.7" lengthAdjust="spacingAndGlyphs" stroke="#000" stroke-width="0.18">polyfunctional strength index</text>
<line x1="35.2" y1="501.20" x2="38.6" y2="501.20" stroke="#0a0a0a" stroke-width="0.9"/>
<text x="32.00" y="503.80" font-size="6.9" text-anchor="end" fill="#222" stroke="#222" stroke-width="0.1">0</text>
<line x1="35.2" y1="486.70" x2="38.6" y2="486.70" stroke="#0a0a0a" stroke-width="0.9"/>
<text x="32.00" y="489.30" font-size="6.9" text-anchor="end" fill="#222" stroke="#222" stroke-width="0.1">1</text>
<line x1="35.2" y1="472.20" x2="38.6" y2="472.20" stroke="#0a0a0a" stroke-width="0.9"/>
<text x="32.00" y="474.80" font-size="6.9" text-anchor="end" fill="#222" stroke="#222" stroke-width="0.1">2</text>
<line x1="35.2" y1="457.70" x2="38.6" y2="457.70" stroke="#0a0a0a" stroke-width="0.9"/>
<text x="32.00" y="460.30" font-size="6.9" text-anchor="end" fill="#222" stroke="#222" stroke-width="0.1">3</text>
<line x1="35.2" y1="443.20" x2="38.6" y2="443.20" stroke="#0a0a0a" stroke-width="0.9"/>
<text x="32.00" y="445.80" font-size="6.9" text-anchor="end" fill="#222" stroke="#222" stroke-width="0.1">4</text>
<line x1="35.2" y1="428.70" x2="38.6" y2="428.70" stroke="#0a0a0a" stroke-width="0.9"/>
<text x="32.00" y="431.30" font-size="6.9" text-anchor="end" fill="#222" stroke="#222" stroke-width="0.1">5</text>
<line x1="35.2" y1="414.20" x2="38.6" y2="414.20" stroke="#0a0a0a" stroke-width="0.9"/>
<text x="32.00" y="416.80" font-size="6.9" text-anchor="end" fill="#222" stroke="#222" stroke-width="0.1">6</text>
<text transform="translate(21.2 460.0) rotate(-90)" font-size="8.8" text-anchor="middle" fill="#222" stroke="#222" stroke-width="0.15" textLength="45" lengthAdjust="spacingAndGlyphs">% Single cells</text>
<rect x="46.5" y="488.50" width="23.5" height="12.70" fill="#f9e3cb"/>
<rect x="46.5" y="486.30" width="23.5" height="2.20" fill="#f1c995"/>
<rect x="46.5" y="484.90" width="23.5" height="1.40" fill="#e6aa5c"/>
<rect x="46.5" y="483.80" width="23.5" height="1.10" fill="#d9881c"/>
<rect x="88.2" y="450.70" width="23.599999999999994" height="50.50" fill="#f9e3cb"/>
<rect x="88.2" y="434.70" width="23.599999999999994" height="16.00" fill="#f1c995"/>
<rect x="88.2" y="428.10" width="23.599999999999994" height="6.60" fill="#e6aa5c"/>
<rect x="88.2" y="421.90" width="23.599999999999994" height="6.20" fill="#d9881c"/>
<path d="M38.6 411.5 V501.2 H122.2" fill="none" stroke="#0a0a0a" stroke-width="1.4"/>
<rect x="125.2" y="422.70" width="7.8" height="7.8" fill="#d9881c"/>
<text x="135.90" y="429.40" font-size="5.8" fill="#222" stroke="#222" stroke-width="0.1">5+ cyt.</text>
<rect x="125.2" y="433.85" width="7.8" height="7.8" fill="#e6aa5c"/>
<text x="135.90" y="440.55" font-size="5.8" fill="#222" stroke="#222" stroke-width="0.1">4 cyt.</text>
<rect x="125.2" y="445.00" width="7.8" height="7.8" fill="#f1c995"/>
<text x="135.90" y="451.70" font-size="5.8" fill="#222" stroke="#222" stroke-width="0.1">3 cyt.</text>
<rect x="125.2" y="456.15" width="7.8" height="7.8" fill="#f9e3cb"/>
<text x="135.90" y="462.85" font-size="5.8" fill="#222" stroke="#222" stroke-width="0.1">2 cyt.</text>
<text x="58.30" y="510.70" font-size="7.0" text-anchor="middle" fill="#333" stroke="#333" stroke-width="0.1">Donor</text>
<text x="58.30" y="518.70" font-size="7.0" text-anchor="middle" fill="#333" stroke="#333" stroke-width="0.1">1</text>
<text x="100.00" y="510.70" font-size="7.0" text-anchor="middle" fill="#333" stroke="#333" stroke-width="0.1">Donor</text>
<text x="100.00" y="518.70" font-size="7.0" text-anchor="middle" fill="#333" stroke="#333" stroke-width="0.1">2</text>
<path d="M160.8 454.3 L166.6 460.2 M166.6 454.3 L160.8 460.2" stroke="#4d4d4f" stroke-width="2.3" stroke-linecap="round"/>
<path d="M210.7 411.4 V501.3 H296.8" fill="none" stroke="#0a0a0a" stroke-width="1.4"/>
<line x1="207.1" y1="501.30" x2="210.7" y2="501.30" stroke="#0a0a0a" stroke-width="0.9"/>
<text x="205.60" y="503.90" font-size="6.9" text-anchor="end" fill="#222" stroke="#222" stroke-width="0.1">0</text>
<line x1="207.1" y1="483.92" x2="210.7" y2="483.92" stroke="#0a0a0a" stroke-width="0.9"/>
<text x="205.60" y="486.52" font-size="6.9" text-anchor="end" fill="#222" stroke="#222" stroke-width="0.1">200</text>
<line x1="207.1" y1="466.54" x2="210.7" y2="466.54" stroke="#0a0a0a" stroke-width="0.9"/>
<text x="205.60" y="469.14" font-size="6.9" text-anchor="end" fill="#222" stroke="#222" stroke-width="0.1">400</text>
<line x1="207.1" y1="449.16" x2="210.7" y2="449.16" stroke="#0a0a0a" stroke-width="0.9"/>
<text x="205.60" y="451.76" font-size="6.9" text-anchor="end" fill="#222" stroke="#222" stroke-width="0.1">600</text>
<line x1="207.1" y1="431.78" x2="210.7" y2="431.78" stroke="#0a0a0a" stroke-width="0.9"/>
<text x="205.60" y="434.38" font-size="6.9" text-anchor="end" fill="#222" stroke="#222" stroke-width="0.1">800</text>
<line x1="207.1" y1="414.40" x2="210.7" y2="414.40" stroke="#0a0a0a" stroke-width="0.9"/>
<text x="205.60" y="417.00" font-size="6.9" text-anchor="end" fill="#222" stroke="#222" stroke-width="0.1">1000</text>
<text transform="translate(182.9 459.1) rotate(-90)" font-size="8.1" text-anchor="middle" fill="#222" stroke="#222" stroke-width="0.15" textLength="49.3" lengthAdjust="spacingAndGlyphs">Signal intensity</text>
<line x1="223.2" y1="501.3" x2="223.2" y2="504.5" stroke="#0a0a0a" stroke-width="0.9"/>
<path d="M219.3 484.2 C219.8 487 221.20000000000002 490 221.20000000000002 493 C221.20000000000002 495.5 219.9 497 219.3 498.5 C218.70000000000002 497 217.4 495.5 217.4 493 C217.4 490 218.8 487 219.3 484.2Z" fill="#6aa6d8"/>
<path d="M227.8 485.4 C228.20000000000002 489 230.10000000000002 492.5 230.10000000000002 495.3 C230.10000000000002 497.5 228.60000000000002 499 227.8 500.2 C227.0 499 225.5 497.5 225.5 495.3 C225.5 492.5 227.4 489 227.8 485.4Z" fill="#1d3260"/>
<line x1="215.8" y1="479.8" x2="222.8" y2="479.8" stroke="#555" stroke-width="0.75"/>
<line x1="224.4" y1="486.4" x2="231.20000000000002" y2="486.4" stroke="#1a1a1a" stroke-width="0.8"/>
<line x1="216.8" y1="476.2" x2="221.8" y2="476.2" stroke="#bbb" stroke-width="0.6"/>
<circle cx="227.8" cy="478.4" r="0.55" fill="#2a3858"/>
<circle cx="227.8" cy="468.6" r="0.55" fill="#2a3858"/>
<circle cx="227.8" cy="459.6" r="0.55" fill="#2a3858"/>
<circle cx="227.8" cy="446.9" r="0.55" fill="#2a3858"/>
<circle cx="227.8" cy="419.7" r="0.55" fill="#2a3858"/>
<circle cx="227.8" cy="414.7" r="0.55" fill="#2a3858"/>
<text transform="translate(227.0 511.1) rotate(-45)" font-size="6.7" text-anchor="end" fill="#333">IL-17A</text>
<line x1="244.7" y1="501.3" x2="244.7" y2="504.5" stroke="#0a0a0a" stroke-width="0.9"/>
<path d="M240.5 484.2 C241.0 487 242.4 490 242.4 493 C242.4 495.5 241.1 497 240.5 498.5 C239.9 497 238.6 495.5 238.6 493 C238.6 490 240.0 487 240.5 484.2Z" fill="#6aa6d8"/>
<path d="M248.8 486.3 C249.20000000000002 489 251.10000000000002 492.5 251.10000000000002 495.3 C251.10000000000002 497.5 249.60000000000002 499 248.8 500.2 C248.0 499 246.5 497.5 246.5 495.3 C246.5 492.5 248.4 489 248.8 486.3Z" fill="#1d3260"/>
<line x1="237.0" y1="482.3" x2="244.0" y2="482.3" stroke="#555" stroke-width="0.75"/>
<line x1="245.4" y1="487.3" x2="252.20000000000002" y2="487.3" stroke="#1a1a1a" stroke-width="0.8"/>
<circle cx="248.8" cy="484.5" r="0.55" fill="#2a3858"/>
<circle cx="248.8" cy="481.5" r="0.55" fill="#2a3858"/>
<circle cx="248.8" cy="479" r="0.55" fill="#2a3858"/>
<circle cx="248.8" cy="476" r="0.55" fill="#2a3858"/>
<circle cx="248.8" cy="473" r="0.55" fill="#2a3858"/>
<circle cx="248.8" cy="467.9" r="0.55" fill="#2a3858"/>
<text transform="translate(248.5 511.1) rotate(-45)" font-size="6.7" text-anchor="end" fill="#333">IL-4</text>
<line x1="266.0" y1="501.3" x2="266.0" y2="504.5" stroke="#0a0a0a" stroke-width="0.9"/>
<path d="M261.7 482.6 C262.2 487 263.59999999999997 490 263.59999999999997 493 C263.59999999999997 495.5 262.3 497 261.7 498.5 C261.09999999999997 497 259.8 495.5 259.8 493 C259.8 490 261.2 487 261.7 482.6Z" fill="#6aa6d8"/>
<path d="M270.2 474.9 C270.59999999999997 489 272.5 492.5 272.5 495.3 C272.5 497.5 271.0 499 270.2 500.2 C269.4 499 267.9 497.5 267.9 495.3 C267.9 492.5 269.8 489 270.2 474.9Z" fill="#1d3260"/>
<line x1="258.2" y1="478.9" x2="265.2" y2="478.9" stroke="#555" stroke-width="0.75"/>
<line x1="266.8" y1="475.9" x2="273.59999999999997" y2="475.9" stroke="#1a1a1a" stroke-width="0.8"/>
<line x1="259.2" y1="463.7" x2="264.2" y2="463.7" stroke="#bbb" stroke-width="0.6"/>
<line x1="270.2" y1="475.9" x2="270.2" y2="465" stroke="#1d3260" stroke-width="1.1"/>
<circle cx="270.2" cy="466.00" r="0.6" fill="#2a3858"/>
<circle cx="270.2" cy="462.75" r="0.6" fill="#2a3858"/>
<circle cx="270.2" cy="459.85" r="0.6" fill="#2a3858"/>
<circle cx="270.2" cy="455.95" r="0.6" fill="#2a3858"/>
<circle cx="270.2" cy="453.20" r="0.6" fill="#2a3858"/>
<circle cx="270.2" cy="449.53" r="0.6" fill="#2a3858"/>
<circle cx="270.2" cy="446.20" r="0.6" fill="#2a3858"/>
<circle cx="270.2" cy="443.48" r="0.6" fill="#2a3858"/>
<circle cx="270.2" cy="439.87" r="0.6" fill="#2a3858"/>
<circle cx="270.2" cy="437.19" r="0.6" fill="#2a3858"/>
<circle cx="270.2" cy="433.73" r="0.6" fill="#2a3858"/>
<circle cx="270.2" cy="430.99" r="0.6" fill="#2a3858"/>
<circle cx="270.2" cy="428.21" r="0.6" fill="#2a3858"/>
<circle cx="270.2" cy="424.76" r="0.6" fill="#2a3858"/>
<circle cx="270.2" cy="420.50" r="0.6" fill="#2a3858"/>
<circle cx="270.2" cy="417.66" r="0.6" fill="#2a3858"/>
<text transform="translate(269.8 511.1) rotate(-45)" font-size="6.7" text-anchor="end" fill="#333">IL-8</text>
<line x1="287.6" y1="501.3" x2="287.6" y2="504.5" stroke="#0a0a0a" stroke-width="0.9"/>
<path d="M283.0 474.5 C284.0 480 284.8 486 284.9 491 C284.9 495 283.8 497.5 283.0 498.5 C282.2 497.5 281.1 495 281.1 491 C281.2 486 282.0 480 283.0 474.5Z" fill="#6aa6d8"/>
<circle cx="283.0" cy="442.4" r="0.8" fill="#b8c4d0"/>
<circle cx="283.0" cy="450.5" r="0.8" fill="#b8c4d0"/>
<circle cx="283.0" cy="458" r="0.8" fill="#b8c4d0"/>
<circle cx="283.0" cy="464.5" r="0.8" fill="#b8c4d0"/>
<circle cx="283.0" cy="468.5" r="0.8" fill="#b8c4d0"/>
<circle cx="283.0" cy="419.7" r="0.8" fill="#b8c4d0"/>
<path d="M291.1 484.6 C291.5 489 293.40000000000003 492.5 293.40000000000003 495.3 C293.40000000000003 497.5 291.90000000000003 499 291.1 500.2 C290.3 499 288.8 497.5 288.8 495.3 C288.8 492.5 290.70000000000005 489 291.1 484.6Z" fill="#1d3260"/>
<line x1="279.5" y1="487.7" x2="286.5" y2="487.7" stroke="#555" stroke-width="0.75"/>
<line x1="287.70000000000005" y1="485.6" x2="294.5" y2="485.6" stroke="#1a1a1a" stroke-width="0.8"/>
<line x1="291.1" y1="485.6" x2="291.1" y2="478" stroke="#1d3260" stroke-width="1.1"/>
<circle cx="291.1" cy="478.00" r="0.6" fill="#2a3858"/>
<circle cx="291.1" cy="471.99" r="0.6" fill="#2a3858"/>
<circle cx="291.1" cy="464.70" r="0.6" fill="#2a3858"/>
<circle cx="291.1" cy="458.89" r="0.6" fill="#2a3858"/>
<circle cx="291.1" cy="453.80" r="0.6" fill="#2a3858"/>
<circle cx="291.1" cy="446.40" r="0.6" fill="#2a3858"/>
<circle cx="291.1" cy="442.71" r="0.6" fill="#2a3858"/>
<circle cx="291.1" cy="435.78" r="0.6" fill="#2a3858"/>
<circle cx="291.1" cy="431.12" r="0.6" fill="#2a3858"/>
<circle cx="291.1" cy="427.04" r="0.6" fill="#2a3858"/>
<circle cx="291.1" cy="423.07" r="0.6" fill="#2a3858"/>
<circle cx="291.1" cy="418.34" r="0.6" fill="#2a3858"/>
<text transform="translate(289.6 510.90000000000003) rotate(-45)" font-size="6.7" text-anchor="end" fill="#333">MIP-1α</text>
<circle cx="269.8" cy="414.5" r="2.7" fill="none" stroke="#b5307a" stroke-width="0.9"/>
<circle cx="269.8" cy="414.5" r="0.7" fill="#b5307a"/>
<line x1="260.4" y1="424.8" x2="267.8" y2="416.6" stroke="#b5307a" stroke-width="0.9"/>
<text x="241.90" y="430.50" font-size="6.0" text-anchor="middle" fill="#b8337c" textLength="28.4" lengthAdjust="spacingAndGlyphs" stroke="#b8337c" stroke-width="0.1">signal from</text>
<text x="242.00" y="437.20" font-size="6.0" text-anchor="middle" fill="#b8337c" textLength="25.7" lengthAdjust="spacingAndGlyphs" stroke="#b8337c" stroke-width="0.1">single cell</text>
<line x1="303.8" y1="453.2" x2="319" y2="453.2" stroke="#4a4a4a" stroke-width="1.2"/>
<path d="M323.2 453.2 L315.2 449.6 L317.8 453.2 L315.2 456.8Z" fill="#4a4a4a"/>
<line x1="351.6" y1="501.10" x2="355.2" y2="501.10" stroke="#0a0a0a" stroke-width="0.9"/>
<text x="350.20" y="503.70" font-size="6.9" text-anchor="end" fill="#222" stroke="#222" stroke-width="0.1">0</text>
<line x1="351.6" y1="483.77" x2="355.2" y2="483.77" stroke="#0a0a0a" stroke-width="0.9"/>
<text x="350.20" y="486.37" font-size="6.9" text-anchor="end" fill="#222" stroke="#222" stroke-width="0.1">10</text>
<line x1="351.6" y1="466.44" x2="355.2" y2="466.44" stroke="#0a0a0a" stroke-width="0.9"/>
<text x="350.20" y="469.04" font-size="6.9" text-anchor="end" fill="#222" stroke="#222" stroke-width="0.1">20</text>
<line x1="351.6" y1="449.11" x2="355.2" y2="449.11" stroke="#0a0a0a" stroke-width="0.9"/>
<text x="350.20" y="451.71" font-size="6.9" text-anchor="end" fill="#222" stroke="#222" stroke-width="0.1">30</text>
<line x1="351.6" y1="431.78" x2="355.2" y2="431.78" stroke="#0a0a0a" stroke-width="0.9"/>
<text x="350.20" y="434.38" font-size="6.9" text-anchor="end" fill="#222" stroke="#222" stroke-width="0.1">40</text>
<line x1="351.6" y1="414.45" x2="355.2" y2="414.45" stroke="#0a0a0a" stroke-width="0.9"/>
<text x="350.20" y="417.05" font-size="6.9" text-anchor="end" fill="#222" stroke="#222" stroke-width="0.1">50</text>
<text transform="translate(336.2 459.6) rotate(-90)" font-size="8.3" text-anchor="middle" fill="#222" stroke="#222" stroke-width="0.15" textLength="46" lengthAdjust="spacingAndGlyphs">Single cell PSI</text>
<rect x="365" y="491.60" width="23.5" height="9.50" fill="#6aad45"/>
<rect x="407" y="452.80" width="23.19999999999999" height="48.30" fill="#6aad45"/>
<rect x="407" y="422.70" width="23.19999999999999" height="30.10" fill="#2c4b8c"/>
<rect x="407" y="421.90" width="23.19999999999999" height="0.80" fill="#4f2a72"/>
<rect x="407" y="419.60" width="23.19999999999999" height="2.30" fill="#f0bb26"/>
<rect x="407" y="417.30" width="23.19999999999999" height="2.30" fill="#b20d3a"/>
<path d="M355.2 413 V501.1 H440.5" fill="none" stroke="#0a0a0a" stroke-width="1.4"/>
<rect x="443.2" y="416.40" width="7.8" height="7.4" fill="#6aad45"/>
<text x="453.80" y="422.70" font-size="5.9" fill="#222" stroke="#222" stroke-width="0.1">Effector</text>
<rect x="443.2" y="429.08" width="7.8" height="7.4" fill="#2c4b8c"/>
<text x="453.80" y="435.38" font-size="5.9" fill="#222" stroke="#222" stroke-width="0.1">Stimulatory</text>
<rect x="443.2" y="441.76" width="7.8" height="7.4" fill="#4f2a72"/>
<text x="453.80" y="448.06" font-size="5.9" fill="#222" stroke="#222" stroke-width="0.1">Chemoattractive</text>
<rect x="443.2" y="454.44" width="7.8" height="7.4" fill="#f0bb26"/>
<text x="453.80" y="460.74" font-size="5.9" fill="#222" stroke="#222" stroke-width="0.1">Regulatory</text>
<rect x="443.2" y="467.12" width="7.8" height="7.4" fill="#b20d3a"/>
<text x="453.80" y="473.42" font-size="5.9" fill="#222" stroke="#222" stroke-width="0.1">Inflammatory</text>
<text x="376.60" y="511.90" font-size="7.0" text-anchor="middle" fill="#333" stroke="#333" stroke-width="0.1">Donor</text>
<text x="376.60" y="520.00" font-size="7.0" text-anchor="middle" fill="#333" stroke="#333" stroke-width="0.1">1</text>
<text x="418.50" y="511.90" font-size="7.0" text-anchor="middle" fill="#333" stroke="#333" stroke-width="0.1">Donor</text>
<text x="418.50" y="520.00" font-size="7.0" text-anchor="middle" fill="#333" stroke="#333" stroke-width="0.1">2</text>
<rect x="0" y="0" width="1.6" height="535" fill="#000"/>
<rect x="0" y="0" width="520" height="1.6" fill="#000"/>
<rect x="518.2" y="0" width="1.8" height="535" fill="#000"/>
<rect x="0" y="533.2" width="520" height="1.8" fill="#000"/>
</svg>
</body></html>
